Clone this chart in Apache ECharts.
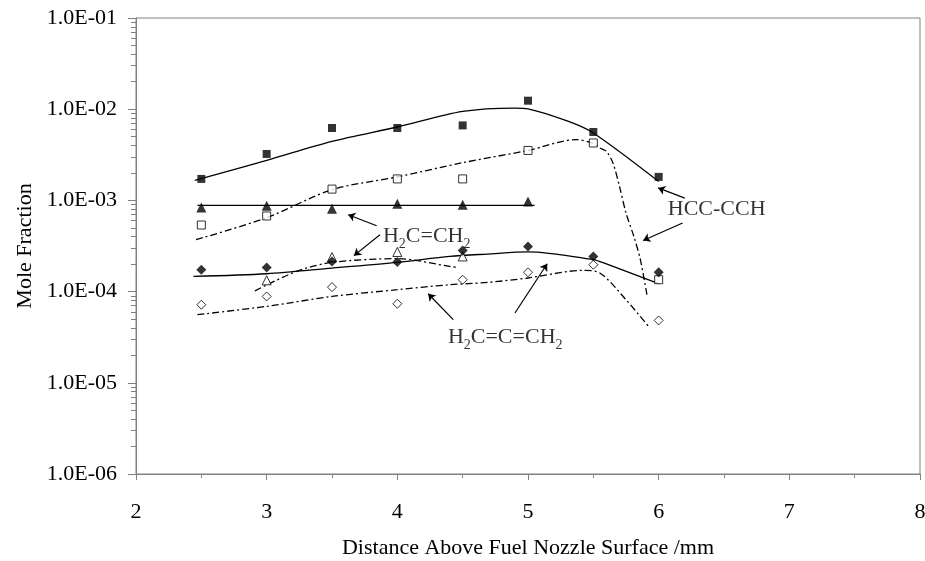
<!DOCTYPE html>
<html>
<head>
<meta charset="utf-8">
<script src="https://cdn.jsdelivr.net/npm/echarts@6/dist/echarts.min.js"></script>
<style>
html,body{margin:0;padding:0;background:#fff;}
#main{width:925px;height:561px;}
</style>
</head>
<body>
<div id="main"></div>
<script>
// measured points (x in mm)
var xMeas = [2.5, 3, 3.5, 4, 4.5, 5, 5.5, 6];
var hccFilled = [1.72e-3, 3.23e-3, 6.22e-3, 6.22e-3, 6.64e-3, 1.24e-2, 5.62e-3, 1.81e-3];
var hccOpen = [5.37e-4, 6.75e-4, 1.33e-3, 1.72e-3, 1.72e-3, 3.53e-3, 4.26e-3, 1.35e-4];
var xEthFilled = [2.5, 3, 3.5, 4, 4.5, 5];
var ethFilled = [8.38e-4, 8.75e-4, 8.11e-4, 9.20e-4, 8.97e-4, 9.75e-4];
var xEthOpen = [3, 3.5, 4, 4.5];
var ethOpen = [1.33e-4, 2.39e-4, 2.72e-4, 2.43e-4];
var alleneFilled = [1.74e-4, 1.84e-4, 2.14e-4, 2.11e-4, 2.83e-4, 3.13e-4, 2.43e-4, 1.63e-4];
var alleneOpen = [7.18e-5, 8.85e-5, 1.12e-4, 7.36e-5, 1.35e-4, 1.63e-4, 1.97e-4, 4.83e-5];

// model curves
var hccSolidX = [2.45, 3, 3.5, 4, 4.5, 4.9, 5, 5.31, 5.5, 6];
var hccSolidY = [1.66e-3, 2.75e-3, 4.44e-3, 6.38e-3, 9.46e-3, 1.03e-2, 1.01e-2, 7.34e-3, 5.48e-3, 1.61e-3];
var hccDashX = [2.46, 3, 3.5, 4, 4.5, 5, 5.37, 5.49, 5.55, 5.6, 5.65, 5.7, 5.75, 5.81, 5.86, 5.91];
var hccDashY = [3.71e-4, 6.46e-4, 1.31e-3, 1.81e-3, 2.59e-3, 3.53e-3, 4.64e-3, 4.26e-3, 3.76e-3, 3.45e-3, 2.57e-3, 1.43e-3, 7.28e-4, 4.03e-4, 2.24e-4, 9.25e-5];
var ethSolidX = [2.47, 5.05];
var ethSolidY = [8.81e-4, 8.81e-4];
var ethDashX = [2.91, 3.23, 3.5, 4, 4.4, 4.47];
var ethDashY = [1.02e-4, 1.67e-4, 2.09e-4, 2.30e-4, 1.89e-4, 1.83e-4];
var alleneSolidX = [2.44, 3, 3.5, 4, 4.4, 4.69, 5, 5.5, 5.58, 6];
var alleneSolidY = [1.47e-4, 1.57e-4, 1.81e-4, 2.09e-4, 2.43e-4, 2.58e-4, 2.72e-4, 2.24e-4, 2.06e-4, 1.22e-4];
var alleneDashX = [2.47, 3, 3.5, 4, 4.4, 4.69, 5, 5.42, 5.55, 5.75, 5.93];
var alleneDashY = [5.58e-5, 6.89e-5, 8.85e-5, 1.05e-4, 1.19e-4, 1.26e-4, 1.41e-4, 1.71e-4, 1.60e-4, 8.15e-5, 4.02e-5];

// annotations
var labelTexts = ['HCC-CCH', 'H{s|2}C=CH{s|2}', 'H{s|2}C=C=CH{s|2}'];
var labelPos = [[6.07, 7.91e-4], [3.89, 4.0e-4], [4.387, 3.13e-5]];
var arrowStart = [[6.2, 1.06e-3], [6.183, 5.65e-4], [3.842, 5.28e-4], [3.867, 4.21e-4], [4.428, 4.92e-5], [4.9, 5.82e-5]];
var arrowEnd = [[5.996, 1.37e-3], [5.881, 3.64e-4], [3.624, 6.97e-4], [3.668, 2.48e-4], [4.236, 9.48e-5], [5.147, 2.02e-4]];

var yTickLabels = ['1.0E-06', '1.0E-05', '1.0E-04', '1.0E-03', '1.0E-02', '1.0E-01'];

var FONT = 'Liberation Serif';
var GRAY = '#808080';

function pairs(xs, ys) {
    var out = [];
    for (var i = 0; i < xs.length; i++) {
        out.push([xs[i], ys[i]]);
    }
    return out;
}
function curve(xs, ys, dashed) {
    return {
        type: 'line',
        data: pairs(xs, ys),
        showSymbol: false,
        smooth: 0.3,
        silent: true,
        z: 2,
        lineStyle: {color: '#000', width: 1.3, type: dashed ? [7, 3, 2, 3] : 'solid'}
    };
}
function marks(xs, ys, symbol, filled, size) {
    return {
        type: 'scatter',
        data: pairs(xs, ys),
        symbol: symbol,
        symbolSize: size,
        silent: true,
        z: 3,
        itemStyle: filled ? {color: '#000'} : {color: '#fff', borderColor: '#000', borderWidth: 1}
    };
}

var arrows = [];
for (var i = 0; i < arrowStart.length; i++) {
    arrows.push([{coord: arrowStart[i]}, {coord: arrowEnd[i]}]);
}
var labels = [];
for (var j = 0; j < labelPos.length; j++) {
    labels.push({value: labelPos[j], label: {formatter: labelTexts[j]}});
}

var myChart = echarts.init(document.getElementById('main'));
var option = {
    animation: false,
    backgroundColor: '#fff',
    grid: {
        left: 136, right: 5, top: 18, bottom: 87,
        outerBoundsMode: 'none',
        show: true, borderColor: GRAY, borderWidth: 1
    },
    xAxis: {
        type: 'value',
        min: 2, max: 8, interval: 1,
        name: 'Distance Above Fuel Nozzle Surface /mm',
        nameLocation: 'middle',
        nameGap: 63,
        nameTextStyle: {fontFamily: FONT, fontSize: 22, color: '#000'},
        axisLine: {show: true, lineStyle: {color: GRAY}},
        axisTick: {show: true, length: 6, lineStyle: {color: GRAY}},
        minorTick: {show: true, splitNumber: 2, length: 4, lineStyle: {color: GRAY}},
        splitLine: {show: false},
        axisLabel: {fontFamily: FONT, fontSize: 22, color: '#000', margin: 27}
    },
    yAxis: {
        type: 'log',
        logBase: 10,
        min: 1e-6, max: 1e-1,
        splitNumber: 5,
        name: 'Mole Fraction',
        nameLocation: 'middle',
        nameGap: 100,
        nameTextStyle: {fontFamily: FONT, fontSize: 22, color: '#000'},
        axisLine: {show: true, lineStyle: {color: GRAY}},
        axisTick: {show: true, length: 8, lineStyle: {color: GRAY}},
        minorTick: {show: true, splitNumber: 9, length: 5, lineStyle: {color: GRAY}},
        splitLine: {show: false},
        axisLabel: {
            fontFamily: FONT, fontSize: 22, color: '#000', margin: 19,
            formatter: function (v) {
                return yTickLabels[Math.round(Math.log10(v)) + 6];
            }
        }
    },
    series: [
        curve(hccSolidX, hccSolidY, false),
        curve(hccDashX, hccDashY, true),
        curve(ethSolidX, ethSolidY, false),
        curve(ethDashX, ethDashY, true),
        curve(alleneSolidX, alleneSolidY, false),
        curve(alleneDashX, alleneDashY, true),
        marks(xMeas, hccFilled, 'rect', true, 8),
        marks(xMeas, hccOpen, 'rect', false, 8),
        marks(xEthFilled, ethFilled, 'triangle', true, 10),
        marks(xEthOpen, ethOpen, 'triangle', false, 9),
        marks(xMeas, alleneFilled, 'diamond', true, 10),
        marks(xMeas, alleneOpen, 'diamond', false, 9),
        {
            type: 'scatter',
            data: labels,
            symbolSize: 0,
            silent: true,
            z: 4,
            label: {
                show: true,
                position: 'right',
                distance: 0,
                fontFamily: FONT,
                fontSize: 22,
                lineHeight: 30,
                color: '#000',
                rich: {
                    s: {fontFamily: FONT, fontSize: 14, lineHeight: 14, verticalAlign: 'bottom', color: '#000'}
                }
            },
            markLine: {
                silent: true,
                symbol: ['none', 'arrow'],
                symbolSize: 7,
                label: {show: false},
                lineStyle: {color: '#000', width: 1.2, type: 'solid'},
                data: arrows
            }
        }
    ]
};
myChart.setOption(option);
</script>
</body>
</html>
